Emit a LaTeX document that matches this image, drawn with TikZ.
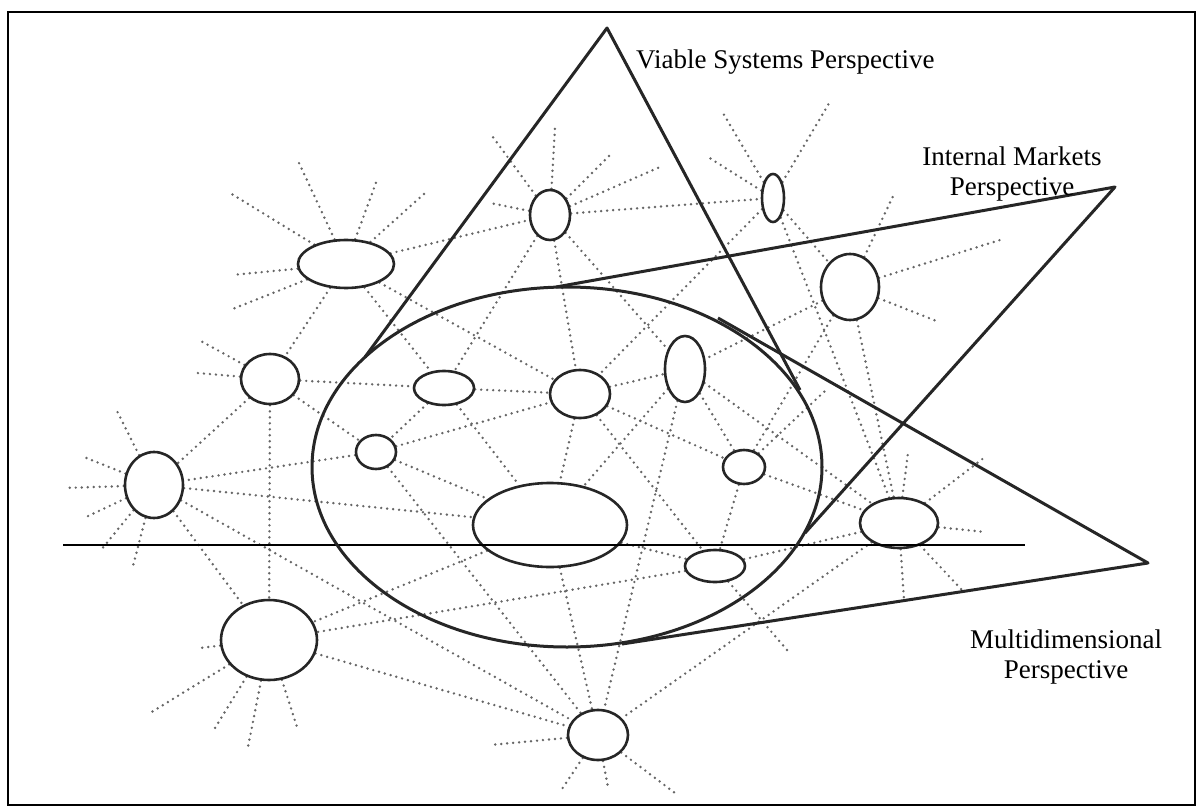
\documentclass[tikz,border=0pt]{standalone}
\usepackage{fontspec}
\setmainfont{Liberation Serif}
\usetikzlibrary{shapes.geometric,backgrounds}

\begin{document}
\begin{tikzpicture}[x=1pt, y=1pt,
  cell/.style 2 args={draw=black!85, ellipse, line width=2.6pt, fill=white, inner sep=0pt,
    minimum width=#1pt, minimum height=#2pt},
  web/.style={draw=black!60, line width=2.7pt, line cap=round, dash pattern=on 0pt off 6pt},
  persp/.style={draw=black!85, line width=3pt, line join=round},
  lbl/.style={font=\fontsize{27}{30}\selectfont, align=center, inner sep=0pt}
]
  \useasboundingbox (0,0) rectangle (1204,-810);
  \draw[line width=2pt] (8,-12) rectangle (1195,-805);

  % the cells
  \node[cell={96}{48}]  (a) at (346,-264) {};
  \node[cell={40}{50}]  (b) at (550,-215) {};
  \node[cell={22}{48}]  (c) at (773,-198) {};
  \node[cell={58}{66}]  (d) at (850,-287) {};
  \node[cell={58}{50}]  (e) at (270,-379) {};
  \node[cell={60}{34}]  (f) at (444,-388) {};
  \node[cell={60}{48}]  (g) at (580,-394) {};
  \node[cell={40}{66}]  (h) at (685,-369) {};
  \node[cell={40}{34}]  (i) at (376,-452) {};
  \node[cell={42}{34}]  (j) at (744,-467) {};
  \node[cell={58}{66}]  (k) at (154,-485) {};
  \node[cell={154}{84}] (l) at (550,-525) {};
  \node[cell={78}{50}]  (m) at (899,-523) {};
  \node[cell={60}{32}]  (n) at (715,-566) {};
  \node[cell={96}{80}]  (o) at (269,-640) {};
  \node[cell={60}{50}]  (p) at (598,-735) {};

  % dotted web
  \begin{scope}[on background layer]
    \foreach \u/\v in {a/b, a/e, a/g, a/f, b/c, b/g, b/f, b/h, c/d, c/g, c/m,
        d/h, d/m, d/j, e/f, e/k, e/o, e/i, f/g, f/i, f/l, g/h, g/l, g/j, g/n,
        h/j, h/m, h/l, h/p, i/k, i/l, i/p, i/g, j/m, j/n, k/l, k/o, k/p,
        l/n, l/p, l/o, m/n, m/p, n/o, o/p}
      \draw[web] (\u) -- (\v);
    \foreach \dx/\dy in {-116/71, -47/101, 31/84, 79/71, -114/-11, -116/-46}
      \draw[web] (a) -- ++(\dx,\dy);
    \foreach \dx/\dy in {-60/82, 5/88, 60/60, 110/48, -60/12}
      \draw[web] (b) -- ++(\dx,\dy);
    \foreach \dx/\dy in {-50/85, 58/98, -65/41}
      \draw[web] (c) -- ++(\dx,\dy);
    \foreach \dx/\dy in {150/47, 89/-35, 45/95}
      \draw[web] (d) -- ++(\dx,\dy);
    \foreach \dx/\dy in {-71/39, -73/6}
      \draw[web] (e) -- ++(\dx,\dy);
    \foreach \dx/\dy in {-89/-3, -70/28, -70/-33, -53/-65, -22/-85, -39/78}
      \draw[web] (k) -- ++(\dx,\dy);
    \foreach \dx/\dy in {-119/-73, -54/-88, -21/-107, 29/-90, -69/-8}
      \draw[web] (o) -- ++(\dx,\dy);
    \foreach \dx/\dy in {-108/-10, -38/-57, 10/-52, 77/-58}
      \draw[web] (p) -- ++(\dx,\dy);
    \foreach \dx/\dy in {86/-9, 86/66, 9/70, 5/-77, 63/-67}
      \draw[web] (m) -- ++(\dx,\dy);
    \draw[web] (n) -- ++(72,-84);
    \draw[web] (j) -- ++(82,77);
  \end{scope}

  % horizon
  \draw[line width=1.3pt] (63,-545) -- (1025,-545);

  % organisation as a whole
  \node[draw=black!85, ellipse, line width=3pt, minimum width=510pt, minimum height=360pt] (org) at (567,-467) {};

  % perspectives
  \coordinate (vs)  at (607,-28);
  \coordinate (vsl) at (365,-357);
  \coordinate (vsr) at (800,-390);
  \coordinate (im)  at (1115,-187);
  \coordinate (iml) at (556,-287);
  \coordinate (imr) at (805,-533);
  \coordinate (md)  at (1148,-563);
  \coordinate (mdt) at (718,-318);
  \coordinate (mdb) at (622,-644);
  \draw[persp] (vsl) -- (vs) -- (vsr);
  \draw[persp] (iml) -- (im) -- (imr);
  \draw[persp] (mdt) -- (md) -- (mdb);

  \node[lbl, anchor=west] (vstext) at (636,-62) {Viable Systems Perspective};
  \node[lbl] (imtext) at (1012,-174) {Internal Markets\\Perspective};
  \node[lbl] (mdtext) at (1066,-657) {Multidimensional\\Perspective};
\end{tikzpicture}
\end{document}
